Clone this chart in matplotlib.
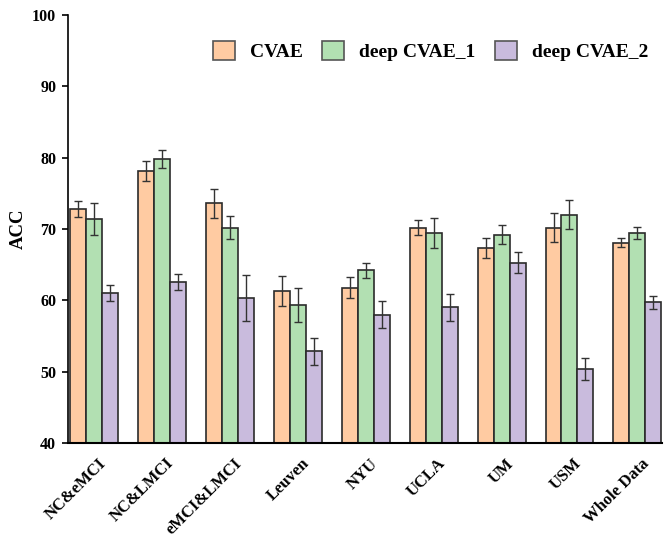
import matplotlib
matplotlib.use("Agg")
import matplotlib.pyplot as plt
import matplotlib.transforms as mtransforms
import numpy as np

categories = ["NC&eMCI", "NC&LMCI", "eMCI&LMCI", "Leuven", "NYU", "UCLA", "UM", "USM", "Whole Data"]
series_names = ["CVAE", "deep CVAE_1", "deep CVAE_2"]

cvae = [72.8, 78.2, 73.6, 61.3, 61.8, 70.2, 67.3, 70.2, 68.1]
cvae_err = [1.1, 1.4, 2.0, 2.1, 1.45, 1.0, 1.4, 2.0, 0.65]
deep1 = [71.4, 79.8, 70.2, 59.4, 64.2, 69.4, 69.2, 72.0, 69.5]
deep1_err = [2.2, 1.3, 1.6, 2.4, 1.1, 2.1, 1.3, 2.05, 0.85]
deep2 = [61.0, 62.6, 60.3, 52.85, 58.0, 59.0, 65.3, 50.4, 59.7]
deep2_err = [1.15, 1.15, 3.2, 1.85, 1.9, 1.85, 1.45, 1.5, 0.9]

colors = ["#FFCBA2", "#B2E0B2", "#C9BBDD"]

plt.rcParams["font.family"] = ["Liberation Serif", "DejaVu Serif"]
plt.rcParams["font.weight"] = "bold"

fig = plt.figure(figsize=(6.65, 5.38), dpi=100)
ax = fig.add_axes([0.1023, 0.1766, 0.893, 0.7954])

x = np.arange(len(categories))
w = 16 / 68
values = [cvae, deep1, deep2]
errs = [cvae_err, deep1_err, deep2_err]
for i, (vals, err, c, name) in enumerate(zip(values, errs, colors, series_names)):
    ax.bar(x + (i - 1) * w, vals, width=w, color=c, edgecolor="#2b2b2b",
           linewidth=1.2, label=name, zorder=2)
    ax.errorbar(x + (i - 1) * w, vals, yerr=err, fmt="none", ecolor="#333333",
                elinewidth=1.0, capsize=2.8, capthick=1.0, zorder=3)

ax.set_xlim(-0.382, 8.36)
ax.set_ylim(40, 100)
ax.set_yticks(np.arange(40, 101, 10))
ax.set_xticks(x)
ax.set_xticklabels(categories, rotation=45, ha="right", rotation_mode="anchor",
                   fontsize=12, fontweight="bold")
ax.tick_params(axis="x", length=0, pad=9)
shift = mtransforms.ScaledTranslation(4 / 100, 0, fig.dpi_scale_trans)
for t in ax.get_xticklabels():
    t.set_transform(t.get_transform() + shift)
ax.tick_params(axis="y", direction="out", length=4, width=1.2, labelsize=11.5, pad=4.5)
for t in ax.get_yticklabels():
    t.set_fontweight("bold")
ax.set_ylabel("ACC", fontsize=13.5, fontweight="bold", labelpad=4)

ax.spines["top"].set_visible(False)
ax.spines["right"].set_visible(False)
ax.spines["left"].set_linewidth(1.2)
ax.spines["bottom"].set_linewidth(1.5)

leg = ax.legend(loc="upper right", bbox_to_anchor=(1.006, 0.98), ncol=3, frameon=False,
                prop={"size": 14, "weight": "bold"}, handlelength=1.15, handleheight=1.15,
                columnspacing=1.0, handletextpad=0.75)
for h in leg.legend_handles:
    h.set_edgecolor("#555555")

fig.savefig("out.png", dpi=100)
